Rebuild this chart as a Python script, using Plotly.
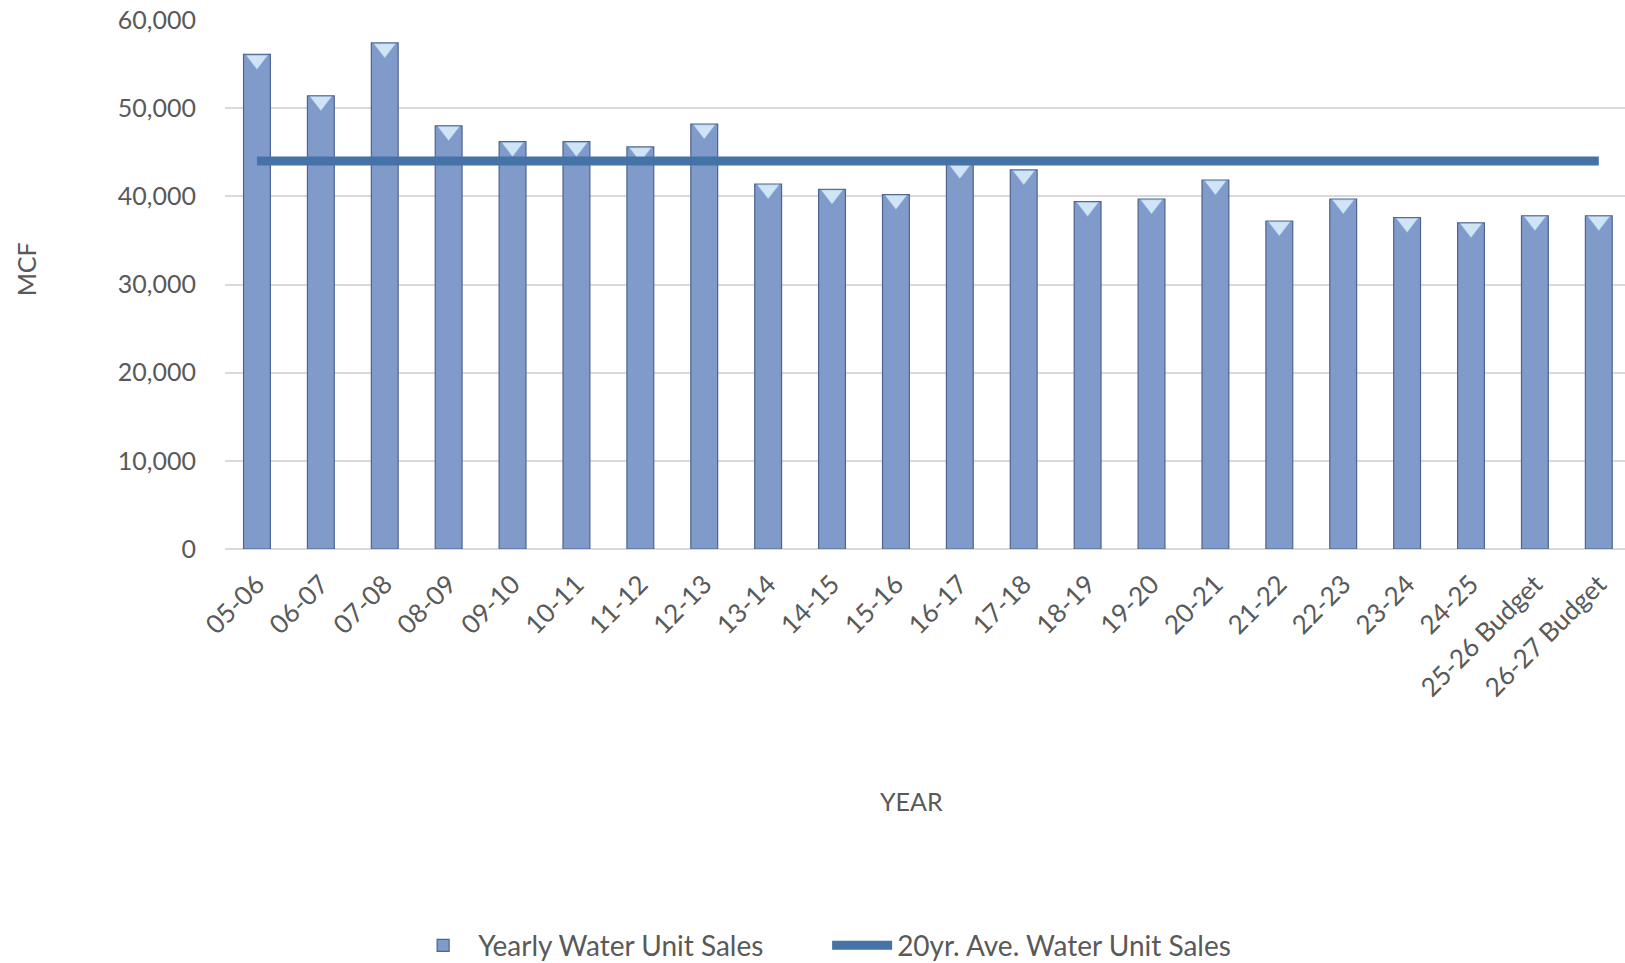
import plotly.graph_objects as go

years = ["05-06", "06-07", "07-08", "08-09", "09-10", "10-11", "11-12", "12-13",
         "13-14", "14-15", "15-16", "16-17", "17-18", "18-19", "19-20", "20-21",
         "21-22", "22-23", "23-24", "24-25", "25-26 Budget", "26-27 Budget"]
yearly_sales = [56100, 51400, 57400, 48000, 46200, 46200, 45600, 48200,
                41400, 40800, 40200, 43700, 43000, 39400, 39700, 41850,
                37200, 39700, 37600, 37000, 37800, 37800]
avg_sales = [44000] * len(years)

FONT = "Lato"
GRAY = "#595959"

fig = go.Figure()
fig.add_trace(go.Bar(
    x=years, y=yearly_sales, name="Yearly Water Unit Sales",
    marker=dict(color="#809ACA", line=dict(color="#4E6390", width=1.2)),
))
fig.add_trace(go.Scatter(
    x=years, y=yearly_sales, mode="markers", showlegend=False, hoverinfo="skip",
    marker=dict(symbol="triangle-down", size=19, color="#CFE5F7",
                line=dict(color="#8FB0D8", width=0.5), standoff=5.5),
))
fig.add_trace(go.Scatter(
    x=years, y=avg_sales, name="20yr. Ave. Water Unit Sales", mode="lines",
    line=dict(color="#4572A7", width=9),
))

fig.update_layout(
    width=1625, height=963,
    margin=dict(l=225, r=0, t=20, b=414),
    paper_bgcolor="white", plot_bgcolor="white",
    font=dict(family=FONT, size=25, color=GRAY),
    bargap=0.58,
    showlegend=True,
    legend=dict(orientation="h", xref="container", yref="container",
                x=0.509, xanchor="center", y=0.018, yanchor="middle",
                font=dict(size=28, color=GRAY), itemwidth=60,
                entrywidth=344, entrywidthmode="pixels",
                traceorder="normal"),
    annotations=[
        dict(text="YEAR", xref="paper", yref="paper", x=0.4907, y=-0.476,
             xanchor="center", yanchor="middle",
             showarrow=False, font=dict(size=25, color=GRAY)),
        dict(text="MCF", xref="paper", yref="paper", x=-0.142, y=0.529,
             xanchor="center", yanchor="middle",
             textangle=-90, showarrow=False, font=dict(size=25, color=GRAY)),
    ],
)
fig.update_xaxes(
    type="category", range=[-0.5, 21.41], tickangle=-45,
    showgrid=False, showline=False, ticks="", ticklabelstandoff=14,
    tickfont=dict(size=26, color=GRAY),
)
fig.update_yaxes(
    range=[0, 60000], dtick=10000, tickformat=",",
    showgrid=True, gridcolor="#D9D9D9", gridwidth=1.5,
    zeroline=True, zerolinecolor="#D9D9D9", zerolinewidth=2,
    ticks="", ticklabelstandoff=28,
    tickfont=dict(size=25, color=GRAY),
)

fig.write_html("out.html")
